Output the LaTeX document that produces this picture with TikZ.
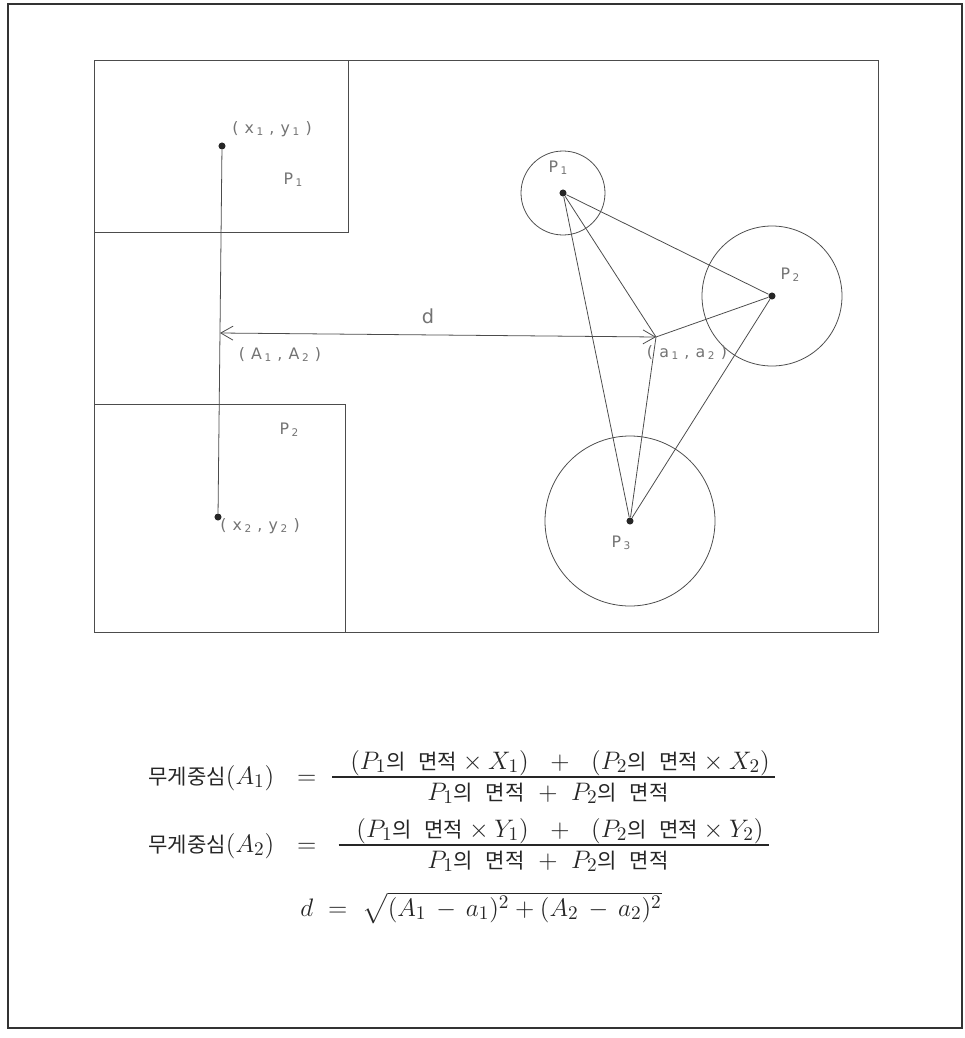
\documentclass[tikz,border=0pt]{standalone}
\usepackage{amsmath}
\usepackage{fontspec}
\newfontfamily\krfont{Noto Sans CJK KR}
\newfontfamily\cadfont{DejaVu Sans}
\usetikzlibrary{arrows.meta, positioning}
\newcommand{\cadsub}[1]{\kern1.5pt\raisebox{-0.2ex}{\fontsize{6}{7}\selectfont #1}}
\newcommand{\cadgap}{\kern3.5pt}
\newcommand{\kr}[1]{\text{\krfont\fontsize{12}{14}\selectfont #1}}

\begin{document}
\begin{tikzpicture}[
    x=0.02cm, y=-0.02cm,
    border/.style={draw=black!80, line width=1.4pt},
    frame/.style={draw=black!70, line width=0.5pt},
    link/.style={draw=black!70, line width=0.45pt},
    cad/.style={text=black!55, font=\cadfont\fontsize{9}{10}\selectfont, inner sep=0pt},
    dot/.style={circle, fill=black!85, inner sep=0pt, minimum size=4pt},
    dist/.style={link, {Straight Barb[length=7pt, width=8pt]}-{Straight Barb[length=7pt, width=8pt]}},
    formula/.style={anchor=base, inner sep=0pt, text=black!85, font=\fontsize{15}{18}\selectfont},
    lhs/.style={formula, anchor=base west},
    bar/.style={draw=black!85, line width=0.6pt}
]
\useasboundingbox (0,0) rectangle (964,1038);

% Frames
\draw[border] (8,4) rectangle (962,1028);
\draw[frame] (94,60) rectangle (878,632);
\draw[frame] (94,232) -| (348,60);
\draw[frame] (94,404) -| (345,632);

% Points
\node[dot] (x1y1) at (222,146) {};
\node[dot] (x2y2) at (218,517) {};
\coordinate (A) at (220,333);
\coordinate (a) at (656,337);
\node[dot] (p1) at (563,193) {};
\node[dot] (p2) at (772,296) {};
\node[dot] (p3) at (630,521) {};

% Circles
\draw[link] (p1) circle[radius=42];
\draw[link] (p2) circle[radius=70];
\draw[link] (p3) circle[radius=85];

% Connections
\draw[link] (x1y1) -- (x2y2);
\draw[dist] (A) -- (a);
\draw[link] (p1) -- (p2) -- (p3) -- (p1);
\draw[link] (p1) -- (a) -- (p2);
\draw[link] (a) -- (p3);

% Labels
\node[cad] (lx1) at (272,129) {(\cadgap x\cadsub{1}\cadgap,\cadgap y\cadsub{1}\cadgap)};
\node[cad] (lz1) at (293,180) {P\cadsub{1}};
\node[cad, font=\cadfont\fontsize{11}{12}\selectfont] (ld) at (428,316) {d};
\node[cad] (lA) at (280,355) {(\cadgap A\cadsub{1}\cadgap,\cadgap A\cadsub{2}\cadgap)};
\node[cad] (la) at (687,353) {(\cadgap a\cadsub{1}\cadgap,\cadgap a\cadsub{2}\cadgap)};
\node[cad] (lz2) at (289,430) {P\cadsub{2}};
\node[cad] (lx2) at (260,526) {(\cadgap x\cadsub{2}\cadgap,\cadgap y\cadsub{2}\cadgap)};
\node[cad] (lp1) at (558,168) {P\cadsub{1}};
\node[cad] (lp2) at (790,275) {P\cadsub{2}};
\node[cad] (lp3) at (621,543) {P\cadsub{3}};

% Formulas
\node[lhs] (f1lhs) at (148,784) {$\kr{무게중심}(A_1)\ \ =$};
\node[formula] (f1num) at (560,769)
  {$(P_1\kr{의\hspace{0.6em}면적}\times X_1)\ \ +\ \ (P_2\kr{의\hspace{0.6em}면적}\times X_2)$};
\node[formula] (f1den) at (548,800)
  {$P_1\kr{의\hspace{0.6em}면적}\ +\ P_2\kr{의\hspace{0.6em}면적}$};
\draw[bar] ([xshift=-10]f1num.west |- 0,777) -- ([xshift=3]f1num.east |- 0,777);

\node[lhs] (f2lhs) at (148,852) {$\kr{무게중심}(A_2)\ \ =$};
\node[formula] (f2num) at (560,837)
  {$(P_1\kr{의\hspace{0.6em}면적}\times Y_1)\ \ +\ \ (P_2\kr{의\hspace{0.6em}면적}\times Y_2)$};
\node[formula] (f2den) at (548,868)
  {$P_1\kr{의\hspace{0.6em}면적}\ +\ P_2\kr{의\hspace{0.6em}면적}$};
\draw[bar] ([xshift=-10]f2num.west |- 0,845) -- ([xshift=3]f2num.east |- 0,845);

\node[lhs] (f3) at (300,916)
  {$d\ =\ \sqrt{(A_1\,-\,a_1)^2+(A_2\,-\,a_2)^2}$};
\end{tikzpicture}
\end{document}
